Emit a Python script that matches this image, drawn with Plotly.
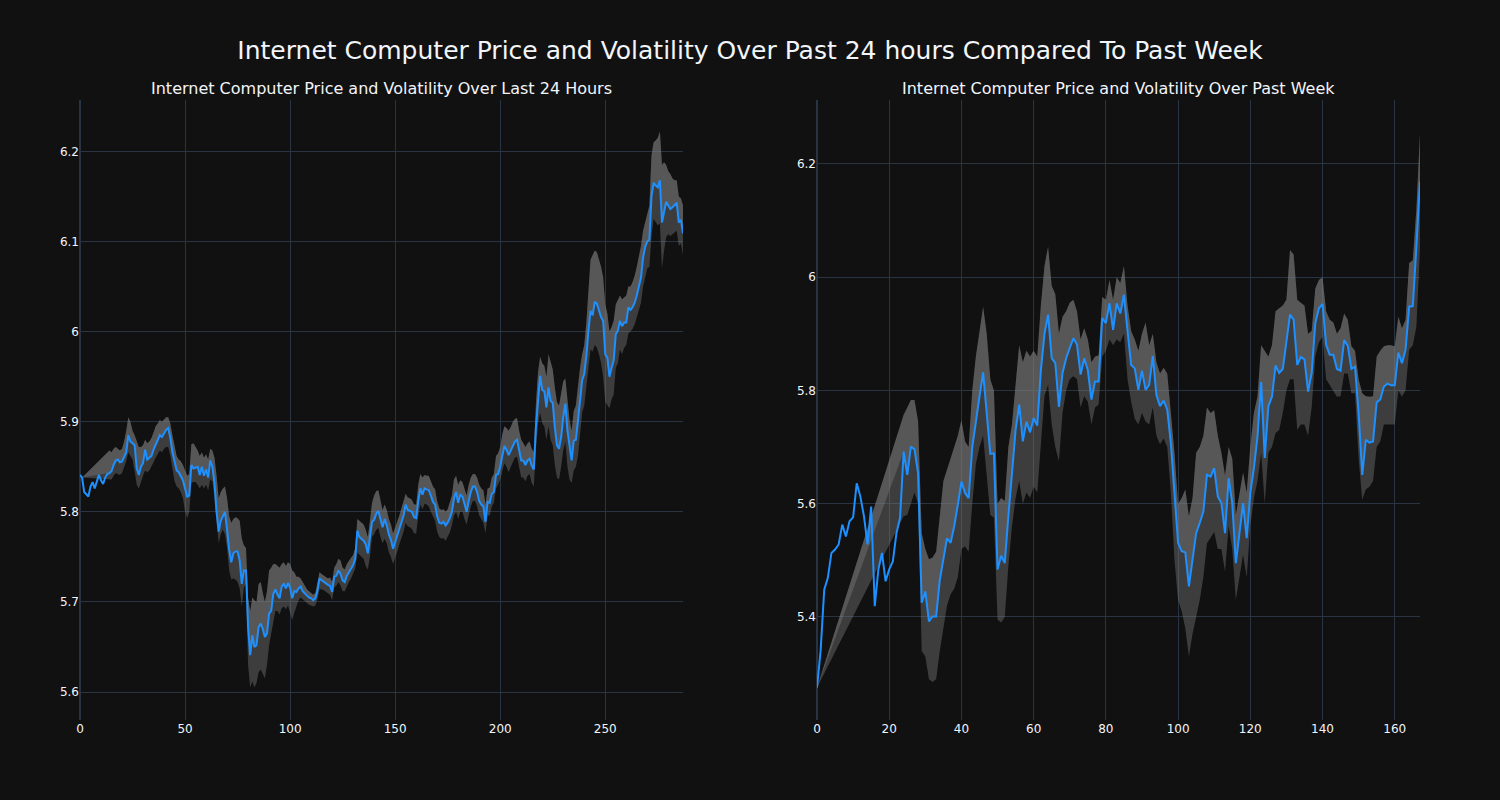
import plotly.graph_objects as go
from plotly.subplots import make_subplots

MAIN_TITLE = "Internet Computer Price and Volatility Over Past 24 hours Compared To Past Week"
TITLE_24H = "Internet Computer Price and Volatility Over Last 24 Hours"
TITLE_WEEK = "Internet Computer Price and Volatility Over Past Week"

price_24h = [
    5.841, 5.838, 5.822, 5.819, 5.817, 5.828, 5.833, 5.826, 5.835, 5.841,
    5.835, 5.831, 5.838, 5.842, 5.843, 5.845, 5.852, 5.857, 5.858, 5.855,
    5.856, 5.862, 5.866, 5.885, 5.878, 5.876, 5.874, 5.848, 5.841, 5.850,
    5.854, 5.869, 5.858, 5.860, 5.862, 5.869, 5.874, 5.879, 5.885, 5.883,
    5.887, 5.891, 5.893, 5.882, 5.866, 5.855, 5.846, 5.844, 5.840, 5.835,
    5.826, 5.817, 5.818, 5.852, 5.848, 5.849, 5.850, 5.841, 5.850, 5.840,
    5.847, 5.838, 5.857, 5.850, 5.832, 5.800, 5.778, 5.790, 5.796, 5.800,
    5.780, 5.758, 5.744, 5.754, 5.756, 5.756, 5.746, 5.720, 5.735, 5.735,
    5.672, 5.641, 5.663, 5.650, 5.652, 5.672, 5.676, 5.670, 5.661, 5.665,
    5.687, 5.690, 5.709, 5.714, 5.708, 5.704, 5.717, 5.720, 5.715, 5.721,
    5.716, 5.704, 5.712, 5.711, 5.715, 5.717, 5.712, 5.709, 5.707, 5.705,
    5.704, 5.702, 5.704, 5.712, 5.726, 5.724, 5.722, 5.720, 5.719, 5.718,
    5.711, 5.728, 5.729, 5.735, 5.731, 5.724, 5.722, 5.729, 5.733, 5.737,
    5.741, 5.748, 5.779, 5.772, 5.770, 5.768, 5.764, 5.754, 5.772, 5.789,
    5.791, 5.798, 5.801, 5.791, 5.783, 5.792, 5.785, 5.775, 5.769, 5.759,
    5.766, 5.774, 5.781, 5.788, 5.796, 5.808, 5.802, 5.801, 5.800, 5.794,
    5.793, 5.812, 5.826, 5.819, 5.826, 5.825, 5.824, 5.818, 5.811, 5.808,
    5.795, 5.788, 5.787, 5.789, 5.785, 5.788, 5.793, 5.800, 5.815, 5.822,
    5.810, 5.819, 5.817, 5.809, 5.800, 5.812, 5.822, 5.828, 5.828, 5.822,
    5.812, 5.808, 5.806, 5.789, 5.811, 5.810, 5.820, 5.822, 5.841, 5.842,
    5.850, 5.862, 5.873, 5.869, 5.863, 5.868, 5.874, 5.878, 5.880, 5.867,
    5.857, 5.857, 5.852, 5.857, 5.859, 5.851, 5.847, 5.894, 5.926, 5.951,
    5.935, 5.934, 5.916, 5.938, 5.923, 5.921, 5.894, 5.874, 5.870, 5.883,
    5.905, 5.920, 5.890, 5.870, 5.857, 5.879, 5.880, 5.901, 5.928, 5.946,
    5.953, 5.973, 6.001, 6.023, 6.018, 6.033, 6.031, 6.023, 6.016, 6.012,
    5.975, 5.971, 5.950, 5.960, 5.968, 5.997, 6.001, 6.012, 6.006, 6.010,
    6.010, 6.027, 6.024, 6.027, 6.032, 6.040, 6.050, 6.060, 6.082, 6.094,
    6.100, 6.102, 6.150, 6.165, 6.162, 6.160, 6.168, 6.121, 6.133, 6.144,
    6.140, 6.136, 6.138, 6.140, 6.143, 6.121, 6.124, 6.109,
]

upper_24h = [
    None, 5.838, None, None, None, None, None, None, None, None,
    None, None, None, None, 5.868, 5.866, 5.870, 5.872, 5.870, 5.868,
    5.870, 5.878, 5.890, 5.905, 5.900, 5.890, 5.885, 5.878, 5.872, 5.872,
    5.874, 5.880, 5.876, 5.878, 5.882, 5.888, 5.895, 5.898, 5.902, 5.900,
    5.902, 5.905, 5.905, 5.898, 5.885, 5.872, 5.862, 5.858, 5.856, 5.852,
    5.846, 5.840, 5.842, 5.875, 5.876, 5.872, 5.868, 5.862, 5.866, 5.860,
    5.864, 5.858, 5.870, 5.868, 5.860, 5.840, 5.815, 5.822, 5.826, 5.828,
    5.815, 5.795, 5.788, 5.792, 5.794, 5.793, 5.790, 5.770, 5.763, 5.760,
    5.705, 5.690, 5.705, 5.702, 5.700, 5.720, 5.722, 5.710, 5.700, 5.712,
    5.735, 5.738, 5.742, 5.742, 5.740, 5.738, 5.742, 5.744, 5.740, 5.744,
    5.742, 5.735, 5.733, 5.728, 5.728, 5.726, 5.722, 5.718, 5.714, 5.712,
    5.710, 5.708, 5.710, 5.720, 5.733, 5.731, 5.729, 5.727, 5.726, 5.727,
    5.722, 5.738, 5.742, 5.748, 5.746, 5.738, 5.736, 5.742, 5.746, 5.749,
    5.752, 5.760, 5.792, 5.790, 5.788, 5.786, 5.780, 5.772, 5.790, 5.810,
    5.818, 5.823, 5.824, 5.812, 5.802, 5.808, 5.802, 5.792, 5.786, 5.776,
    5.782, 5.790, 5.796, 5.804, 5.812, 5.820, 5.816, 5.815, 5.813, 5.808,
    5.808, 5.830, 5.842, 5.838, 5.841, 5.840, 5.840, 5.834, 5.828, 5.825,
    5.812, 5.804, 5.802, 5.803, 5.800, 5.803, 5.810, 5.818, 5.836, 5.840,
    5.830, 5.835, 5.833, 5.826, 5.818, 5.830, 5.838, 5.842, 5.842, 5.838,
    5.830, 5.826, 5.824, 5.808, 5.826, 5.827, 5.838, 5.842, 5.862, 5.865,
    5.872, 5.886, 5.895, 5.893, 5.890, 5.894, 5.900, 5.903, 5.904, 5.890,
    5.880, 5.876, 5.872, 5.876, 5.878, 5.870, 5.866, 5.920, 5.955, 5.972,
    5.965, 5.962, 5.950, 5.975, 5.965, 5.958, 5.938, 5.922, 5.918, 5.930,
    5.945, 5.948, 5.920, 5.902, 5.890, 5.912, 5.918, 5.940, 5.960, 5.975,
    5.985, 6.010, 6.050, 6.080, 6.085, 6.090, 6.088, 6.080, 6.072, 6.060,
    6.030, 6.020, 6.000, 6.005, 6.012, 6.030, 6.035, 6.040, 6.036, 6.038,
    6.040, 6.050, 6.050, 6.055, 6.062, 6.072, 6.082, 6.095, 6.112, 6.122,
    6.130, 6.140, 6.195, 6.210, 6.212, 6.215, 6.222, 6.185, 6.188, 6.185,
    6.178, 6.175, 6.170, 6.168, 6.168, 6.150, 6.148, 6.140,
]

lower_24h = [
    None, 5.838, None, None, None, None, None, None, None, None,
    None, None, None, None, 5.836, 5.836, 5.840, 5.843, 5.842, 5.841,
    5.843, 5.850, 5.856, 5.866, 5.862, 5.858, 5.845, 5.830, 5.826, 5.834,
    5.840, 5.846, 5.844, 5.846, 5.850, 5.855, 5.860, 5.864, 5.868, 5.866,
    5.870, 5.872, 5.872, 5.862, 5.845, 5.834, 5.828, 5.826, 5.822, 5.815,
    5.800, 5.793, 5.800, 5.832, 5.833, 5.833, 5.830, 5.826, 5.830, 5.826,
    5.830, 5.824, 5.836, 5.834, 5.815, 5.790, 5.765, 5.775, 5.780, 5.775,
    5.760, 5.735, 5.725, 5.726, 5.725, 5.722, 5.715, 5.695, 5.716, 5.720,
    5.630, 5.605, 5.612, 5.605, 5.610, 5.622, 5.625, 5.620, 5.615, 5.630,
    5.652, 5.665, 5.680, 5.690, 5.690, 5.686, 5.693, 5.695, 5.692, 5.696,
    5.688, 5.680, 5.688, 5.694, 5.702, 5.705, 5.703, 5.700, 5.698, 5.697,
    5.696, 5.695, 5.696, 5.703, 5.714, 5.714, 5.713, 5.711, 5.710, 5.708,
    5.702, 5.716, 5.718, 5.722, 5.718, 5.712, 5.712, 5.718, 5.722, 5.726,
    5.731, 5.737, 5.755, 5.752, 5.750, 5.748, 5.740, 5.736, 5.750, 5.772,
    5.775, 5.780, 5.782, 5.772, 5.765, 5.770, 5.765, 5.755, 5.750, 5.742,
    5.748, 5.756, 5.764, 5.770, 5.778, 5.788, 5.784, 5.783, 5.781, 5.776,
    5.776, 5.795, 5.808, 5.803, 5.809, 5.808, 5.806, 5.800, 5.794, 5.790,
    5.778, 5.772, 5.770, 5.771, 5.768, 5.772, 5.777, 5.785, 5.796, 5.800,
    5.792, 5.800, 5.800, 5.792, 5.786, 5.796, 5.806, 5.812, 5.812, 5.806,
    5.796, 5.792, 5.788, 5.776, 5.796, 5.796, 5.806, 5.810, 5.826, 5.830,
    5.836, 5.845, 5.854, 5.850, 5.844, 5.850, 5.856, 5.860, 5.861, 5.848,
    5.838, 5.838, 5.834, 5.840, 5.842, 5.832, 5.828, 5.870, 5.898, 5.910,
    5.898, 5.895, 5.880, 5.895, 5.880, 5.874, 5.852, 5.838, 5.836, 5.850,
    5.868, 5.878, 5.850, 5.836, 5.832, 5.846, 5.850, 5.862, 5.890, 5.910,
    5.918, 5.940, 5.965, 5.980, 5.978, 5.985, 5.982, 5.975, 5.965, 5.950,
    5.922, 5.918, 5.915, 5.925, 5.930, 5.960, 5.965, 5.980, 5.975, 5.982,
    5.985, 5.998, 6.000, 6.003, 6.008, 6.015, 6.024, 6.032, 6.050, 6.060,
    6.070, 6.072, 6.105, 6.125, 6.122, 6.118, 6.120, 6.070, 6.090, 6.105,
    6.108, 6.106, 6.108, 6.110, 6.112, 6.095, 6.098, 6.085,
]

price_week = [
    5.275, 5.340, 5.448, 5.469, 5.513, 5.519, 5.528, 5.563, 5.542, 5.569,
    5.576, 5.636, 5.613, 5.578, 5.528, 5.595, 5.419, 5.484, 5.513, 5.463,
    5.484, 5.498, 5.548, 5.575, 5.692, 5.651, 5.701, 5.696, 5.654, 5.425,
    5.445, 5.392, 5.401, 5.401, 5.465, 5.505, 5.539, 5.531, 5.560, 5.598,
    5.639, 5.619, 5.610, 5.700, 5.748, 5.789, 5.832, 5.766, 5.688, 5.689,
    5.484, 5.508, 5.495, 5.578, 5.650, 5.730, 5.775, 5.710, 5.745, 5.726,
    5.751, 5.738, 5.836, 5.900, 5.934, 5.857, 5.848, 5.771, 5.831, 5.857,
    5.875, 5.892, 5.881, 5.828, 5.857, 5.836, 5.784, 5.816, 5.816, 5.928,
    5.919, 5.954, 5.907, 5.954, 5.936, 5.969, 5.905, 5.845, 5.839, 5.801,
    5.835, 5.801, 5.810, 5.861, 5.792, 5.772, 5.782, 5.766, 5.707, 5.625,
    5.531, 5.516, 5.514, 5.454, 5.504, 5.548, 5.566, 5.586, 5.651, 5.648,
    5.663, 5.613, 5.601, 5.548, 5.645, 5.601, 5.495, 5.548, 5.601, 5.539,
    5.619, 5.663, 5.719, 5.815, 5.681, 5.772, 5.789, 5.844, 5.831, 5.838,
    5.889, 5.934, 5.925, 5.845, 5.859, 5.855, 5.798, 5.831, 5.919, 5.945,
    5.953, 5.881, 5.863, 5.863, 5.838, 5.835, 5.889, 5.879, 5.838, 5.842,
    5.760, 5.651, 5.713, 5.708, 5.710, 5.779, 5.784, 5.807, 5.812, 5.809,
    5.809, 5.867, 5.848, 5.872, 5.948, 5.949, 6.054, 6.169,
]

upper_week = [
    5.275, None, None, None, None, None, None, None, None, None,
    None, None, None, None, None, None, None, None, None, None,
    None, None, None, None, 5.757, 5.770, 5.783, 5.783, 5.745, 5.548,
    5.520, 5.502, 5.505, 5.515, 5.580, 5.640, 5.660, 5.680, 5.700, 5.720,
    5.748, 5.710, 5.700, 5.800, 5.860, 5.900, 5.948, 5.900, 5.820, 5.800,
    5.600, 5.610, 5.605, 5.700, 5.740, 5.810, 5.880, 5.850, 5.870, 5.860,
    5.870, 5.860, 5.950, 6.020, 6.054, 5.985, 5.970, 5.900, 5.930, 5.940,
    5.955, 5.960, 5.940, 5.890, 5.910, 5.890, 5.850, 5.860, 5.862, 5.965,
    5.960, 5.995, 5.960, 6.000, 5.990, 6.020, 5.950, 5.905, 5.890, 5.870,
    5.900, 5.920, 5.880, 5.900, 5.850, 5.830, 5.840, 5.830, 5.760, 5.690,
    5.600, 5.610, 5.625, 5.578, 5.610, 5.690, 5.700, 5.720, 5.770, 5.760,
    5.765, 5.720, 5.690, 5.650, 5.700, 5.680, 5.580, 5.620, 5.655, 5.620,
    5.700, 5.760, 5.790, 5.880, 5.870, 5.860, 5.880, 5.940, 5.945, 5.950,
    5.960, 6.048, 6.040, 5.960, 5.955, 5.950, 5.900, 5.905, 5.980, 5.995,
    6.000, 5.940, 5.925, 5.920, 5.900, 5.910, 5.936, 5.925, 5.878, 5.870,
    5.820, 5.795, 5.790, 5.789, 5.790, 5.860, 5.870, 5.878, 5.880, 5.880,
    5.878, 5.930, 5.910, 5.925, 6.025, 6.030, 6.120, 6.254,
]

lower_week = [
    5.275, None, None, None, None, None, None, None, None, None,
    None, None, None, None, None, None, None, None, None, None,
    None, None, None, None, 5.578, 5.580, 5.600, 5.620, 5.600, 5.340,
    5.330, 5.290, 5.285, 5.290, 5.340, 5.380, 5.420, 5.440, 5.450, 5.470,
    5.520, 5.525, 5.515, 5.600, 5.670, 5.700, 5.720, 5.650, 5.580, 5.575,
    5.395, 5.390, 5.400, 5.490, 5.560, 5.610, 5.640, 5.600, 5.620, 5.610,
    5.630, 5.620, 5.700, 5.790, 5.810, 5.740, 5.700, 5.675, 5.760, 5.800,
    5.820, 5.825, 5.820, 5.770, 5.790, 5.780, 5.740, 5.770, 5.775, 5.860,
    5.870, 5.890, 5.880, 5.890, 5.885, 5.900, 5.820, 5.780, 5.750, 5.740,
    5.760, 5.745, 5.740, 5.770, 5.720, 5.705, 5.715, 5.700, 5.620, 5.500,
    5.430, 5.410, 5.380, 5.330, 5.370, 5.400, 5.430, 5.470, 5.530, 5.540,
    5.550, 5.520, 5.520, 5.480, 5.560, 5.520, 5.430, 5.470, 5.510, 5.470,
    5.560, 5.610, 5.640, 5.690, 5.600, 5.690, 5.700, 5.725, 5.730, 5.760,
    5.800, 5.820, 5.820, 5.730, 5.740, 5.740, 5.720, 5.770, 5.860, 5.885,
    5.895, 5.820, 5.810, 5.800, 5.789, 5.790, 5.830, 5.830, 5.795, 5.795,
    5.680, 5.607, 5.625, 5.630, 5.640, 5.700, 5.710, 5.740, 5.740, 5.739,
    5.740, 5.800, 5.789, 5.800, 5.872, 5.880, 5.913, 6.050,
]

LINE_COLOR = "#1e90ff"
BAND_COLOR = "rgba(128,128,128,0.4)"
FONT_FAMILY = "DejaVu Sans"

fig = make_subplots(rows=1, cols=2, subplot_titles=(TITLE_24H, TITLE_WEEK))


def add_panel(col, price, upper, lower):
    x = list(range(len(price)))
    mid = [p if u is not None else None for p, u in zip(price, upper)]
    common = dict(mode="lines", line=dict(width=0), connectgaps=True,
                  hoverinfo="skip", showlegend=False)
    fig.add_trace(go.Scatter(x=x, y=upper, **common), row=1, col=col)
    fig.add_trace(go.Scatter(x=x, y=lower, fill="tonexty", fillcolor=BAND_COLOR, **common),
                  row=1, col=col)
    fig.add_trace(go.Scatter(x=x, y=upper, **common), row=1, col=col)
    fig.add_trace(go.Scatter(x=x, y=mid, fill="tonexty", fillcolor=BAND_COLOR, **common),
                  row=1, col=col)
    fig.add_trace(go.Scatter(x=x, y=price, mode="lines", showlegend=False,
                             line=dict(color=LINE_COLOR, width=2)), row=1, col=col)


add_panel(1, price_24h, upper_24h, lower_24h)
add_panel(2, price_week, upper_week, lower_week)

fig.update_layout(
    template="plotly_dark",
    width=1500,
    height=800,
    showlegend=False,
    font=dict(family=FONT_FAMILY),
    title=dict(text=MAIN_TITLE, x=0.5, xanchor="center", y=0.9375, yanchor="middle",
               font=dict(size=25, family=FONT_FAMILY)),
)
fig.update_annotations(font=dict(size=16, family=FONT_FAMILY))
fig.update_xaxes(range=[0, len(price_24h) - 1], dtick=50, row=1, col=1)
fig.update_xaxes(range=[0, len(price_week) - 1], dtick=20, row=1, col=2)
fig.update_yaxes(range=[5.569, 6.257], dtick=0.1, row=1, col=1)
fig.update_yaxes(range=[5.218, 6.313], dtick=0.2, row=1, col=2)

fig.write_html(
    "out.html",
    config={"displayModeBar": False},
    post_script="document.body.style.margin='0';document.body.style.background='#111111';",
)
